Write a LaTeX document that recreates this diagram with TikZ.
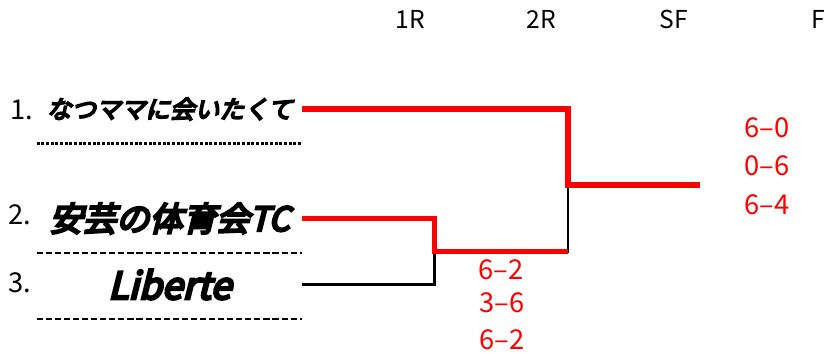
\documentclass[tikz,border=0pt]{standalone}
\usepackage{fontspec}
\usepackage{tikz}
\usetikzlibrary{positioning,calc}
\newfontfamily\gothic{Noto Sans CJK JP}
\newfontfamily\teamfont[FakeSlant=0.25,FakeBold=7]{Noto Sans CJK JP}
\definecolor{winred}{rgb}{1.0, 0.0, 0.0}

\tikzset{
  roundlabel/.style={font=\gothic\fontsize{18.5}{20}\selectfont},
  seed/.style={font=\gothic\fontsize{20.5}{22}\selectfont},
  score/.style={font=\gothic\fontsize{20.5}{22}\selectfont,text=winred},
  team/.style={minimum width=198.75pt,minimum height=51pt,inner sep=0pt},
  win/.style={draw=winred,line width=4.1pt},
  lose/.style={draw=black,line width=2pt},
  dotline/.style={line width=2.2pt,dash pattern=on 2.2pt off 1.3pt},
  dashline/.style={line width=1.9pt,dash pattern=on 4.6pt off 2.2pt}
}

\begin{document}
\begin{tikzpicture}[x=0.75pt,y=-0.75pt]
		\useasboundingbox (0,0) rectangle (829,355);
		
		\node[roundlabel] (r1) at (410,19) {1R};
		\node[roundlabel] (r2) at (541,19) {2R};
		\node[roundlabel] (r3) at (674,19) {SF};
		\node[roundlabel] (r4) at (818,19) {F};
		
		\node[seed] (n1) at (22,110) {1.};
		\node[seed] (n2) at (20,215) {2.};
		\node[seed] (n3) at (20,283) {3.};
		
		\node[team,font=\teamfont\fontsize{18.5}{20}\selectfont] (t1) at (169.5,109) {なつママに会いたくて};
		\node[team,font=\teamfont\fontsize{25}{27}\selectfont] (t2) at (169.5,218.5) {安芸の体育会TC};
		\node[team,font=\teamfont\fontsize{28}{30}\selectfont] (t3) at (169.5,284.5) {Liberte};
		
		\draw[dotline] (t1.south west) -- (t1.south east);
		\draw[dashline] (t2.south west) -- (t2.south east);
		\draw[dashline] (t3.south west) -- (t3.south east);
		
		\coordinate (m23) at (434.5,251.5);
		\coordinate (sf) at (568,185);
		\coordinate (fin) at (700,185);
		
		\draw[lose] (t3.east) -| (m23) -| (sf);
		\draw[win] (t2.east) -| (m23) -- (m23 -| sf);
		\draw[win] (t1.east) -| (sf) -- (fin);
		
		\node[score] (f1) at (767,128) {6–0};
		\node[score] (f2) at (767,166) {0–6};
		\node[score] (f3) at (767,205) {6–4};
		
		\node[score] (q1) at (501,270) {6–2};
		\node[score] (q2) at (502,303) {3–6};
		\node[score] (q3) at (502,340) {6–2};
		\end{tikzpicture}
\end{document}
